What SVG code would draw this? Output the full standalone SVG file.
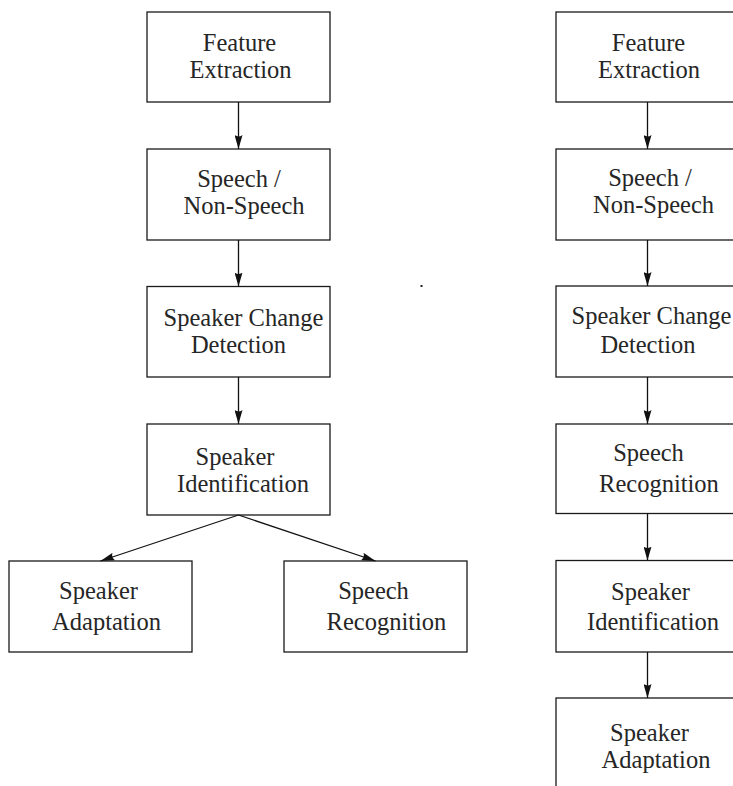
<svg xmlns="http://www.w3.org/2000/svg" width="733" height="786" viewBox="0 0 733 786">
  <style>
    .box { fill: #ffffff; stroke: #1a1a1a; stroke-width: 1.3; }
    .lbl { font-family: 'Liberation Serif', 'DejaVu Serif', serif; font-size: 24.5px; fill: #262626; text-anchor: middle; }
    .edge { fill: none; stroke: #111111; stroke-width: 1.3; marker-end: url(#arrow); }
  </style>
  <defs>
    <marker id="arrow" viewBox="0 0 14 8" refX="14" refY="4" markerWidth="14" markerHeight="8" markerUnits="userSpaceOnUse" orient="auto">
      <path d="M0,0 L14,4 L0,8 Q3,4 0,0 Z" fill="#111111"/>
    </marker>
  </defs>
  <rect width="733" height="786" fill="#ffffff"/>

  <!-- left pipeline: recognition and adaptation both fed by identification -->
  <g id="l-feature">
    <rect class="box" x="147" y="12" width="183" height="90"/>
    <text class="lbl" x="239.5" y="51">Feature</text>
    <text class="lbl" x="240.5" y="78">Extraction</text>
  </g>
  <g id="l-sns">
    <rect class="box" x="147" y="149" width="183" height="91"/>
    <text class="lbl" x="239" y="187">Speech /</text>
    <text class="lbl" x="244" y="214">Non-Speech</text>
  </g>
  <g id="l-scd">
    <rect class="box" x="147" y="286.5" width="183" height="90.5"/>
    <text class="lbl" x="243.5" y="326">Speaker Change</text>
    <text class="lbl" x="238.5" y="353">Detection</text>
  </g>
  <g id="l-sid">
    <rect class="box" x="147" y="424" width="183" height="91"/>
    <text class="lbl" x="235" y="465">Speaker</text>
    <text class="lbl" x="243" y="492">Identification</text>
  </g>
  <g id="l-sad">
    <rect class="box" x="9" y="561" width="183" height="91"/>
    <text class="lbl" x="98.5" y="599">Speaker</text>
    <text class="lbl" x="106.5" y="630">Adaptation</text>
  </g>
  <g id="l-asr">
    <rect class="box" x="284" y="561" width="183" height="91"/>
    <text class="lbl" x="373.5" y="599">Speech</text>
    <text class="lbl" x="386.5" y="630">Recognition</text>
  </g>

  <!-- right pipeline: strictly sequential -->
  <g id="r-feature">
    <rect class="box" x="556" y="12" width="183" height="90"/>
    <text class="lbl" x="648.5" y="51">Feature</text>
    <text class="lbl" x="649" y="78">Extraction</text>
  </g>
  <g id="r-sns">
    <rect class="box" x="556" y="149" width="183" height="91"/>
    <text class="lbl" x="650" y="186">Speech /</text>
    <text class="lbl" x="653.5" y="213">Non-Speech</text>
  </g>
  <g id="r-scd">
    <rect class="box" x="556" y="286" width="183" height="91"/>
    <text class="lbl" x="651.5" y="324">Speaker Change</text>
    <text class="lbl" x="648" y="353">Detection</text>
  </g>
  <g id="r-asr">
    <rect class="box" x="556" y="424" width="183" height="89.5"/>
    <text class="lbl" x="648.5" y="461">Speech</text>
    <text class="lbl" x="659" y="492">Recognition</text>
  </g>
  <g id="r-sid">
    <rect class="box" x="556" y="560.5" width="183" height="91.5"/>
    <text class="lbl" x="650.5" y="600">Speaker</text>
    <text class="lbl" x="653" y="630">Identification</text>
  </g>
  <g id="r-sad">
    <rect class="box" x="556" y="698" width="183" height="100"/>
    <text class="lbl" x="649.5" y="741">Speaker</text>
    <text class="lbl" x="656" y="768">Adaptation</text>
  </g>

  <!-- stray speck -->
  <rect x="420.5" y="285" width="2" height="2" fill="#222222"/>

  <g id="connectors">
    <line class="edge" x1="238.5" y1="102" x2="238.5" y2="149"/>
    <line class="edge" x1="238.5" y1="240" x2="238.5" y2="286.5"/>
    <line class="edge" x1="238.5" y1="377" x2="238.5" y2="424"/>
    <line class="edge" x1="238.5" y1="515" x2="100.5" y2="561"/>
    <line class="edge" x1="238.5" y1="515" x2="375.5" y2="561"/>

    <line class="edge" x1="647.5" y1="102" x2="647.5" y2="149"/>
    <line class="edge" x1="647.5" y1="240" x2="647.5" y2="286"/>
    <line class="edge" x1="647.5" y1="377" x2="647.5" y2="424"/>
    <line class="edge" x1="647.5" y1="513.5" x2="647.5" y2="560.5"/>
    <line class="edge" x1="647.5" y1="652" x2="647.5" y2="698"/>
  </g>
</svg>
